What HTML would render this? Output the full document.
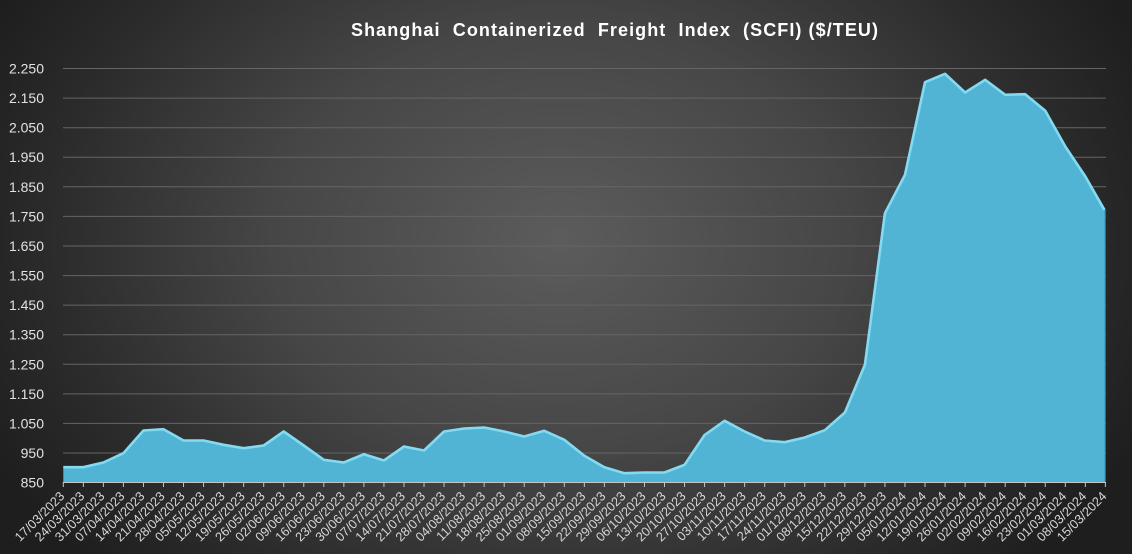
<!DOCTYPE html>
<html>
<head>
<meta charset="utf-8">
<style>
  html,body{margin:0;padding:0;background:#222;}
  body{width:1132px;height:554px;overflow:hidden;}
  svg{display:block;}
  .yl{font-family:"Liberation Sans",sans-serif;font-size:14px;fill:#e2e2e2;text-anchor:end;}
  .xl{font-family:"Liberation Sans",sans-serif;font-size:12.8px;fill:#d6d6d6;text-anchor:end;}
  .title{font-family:"Liberation Sans",sans-serif;font-size:18px;font-weight:bold;fill:#ffffff;white-space:pre;}
</style>
</head>
<body>
<svg width="1132" height="554" viewBox="0 0 1132 554" xmlns="http://www.w3.org/2000/svg">
  <defs>
    <radialGradient id="bg" gradientUnits="userSpaceOnUse" cx="560" cy="240" r="640" gradientTransform="translate(560 240) scale(1 0.75) translate(-560 -240)">
      <stop offset="0" stop-color="#5c5c5c"/>
      <stop offset="0.45" stop-color="#464646"/>
      <stop offset="0.8" stop-color="#2b2b2b"/>
      <stop offset="1" stop-color="#1e1e1e"/>
    </radialGradient>
  </defs>
  <rect x="0" y="0" width="1132" height="554" fill="url(#bg)"/>

  <text class="title" xml:space="preserve" x="351" y="36" textLength="527" lengthAdjust="spacing">Shanghai  Containerized  Freight  Index  (SCFI) ($/TEU)</text>

  <!-- gridlines -->
  <g stroke="#656565" stroke-width="1">
    <line x1="63" y1="68.5" x2="1106" y2="68.5"/>
    <line x1="63" y1="98.1" x2="1106" y2="98.1"/>
    <line x1="63" y1="127.7" x2="1106" y2="127.7"/>
    <line x1="63" y1="157.2" x2="1106" y2="157.2"/>
    <line x1="63" y1="186.8" x2="1106" y2="186.8"/>
    <line x1="63" y1="216.4" x2="1106" y2="216.4"/>
    <line x1="63" y1="246" x2="1106" y2="246"/>
    <line x1="63" y1="275.6" x2="1106" y2="275.6"/>
    <line x1="63" y1="305.1" x2="1106" y2="305.1"/>
    <line x1="63" y1="334.7" x2="1106" y2="334.7"/>
    <line x1="63" y1="364.3" x2="1106" y2="364.3"/>
    <line x1="63" y1="393.9" x2="1106" y2="393.9"/>
    <line x1="63" y1="423.4" x2="1106" y2="423.4"/>
    <line x1="63" y1="453" x2="1106" y2="453"/>
  </g>

  <!-- y labels -->
  <g class="yl">
    <text x="44" y="73.5">2.250</text>
    <text x="44" y="103.1">2.150</text>
    <text x="44" y="132.7">2.050</text>
    <text x="44" y="162.2">1.950</text>
    <text x="44" y="191.8">1.850</text>
    <text x="44" y="221.4">1.750</text>
    <text x="44" y="251">1.650</text>
    <text x="44" y="280.6">1.550</text>
    <text x="44" y="310.1">1.450</text>
    <text x="44" y="339.7">1.350</text>
    <text x="44" y="369.3">1.250</text>
    <text x="44" y="398.9">1.150</text>
    <text x="44" y="428.4">1.050</text>
    <text x="44" y="458">950</text>
    <text x="44" y="487.5">850</text>
  </g>

  <!-- area -->
  <polygon fill="#52b4d4" points="63.3,482.5 63.3,466.7 83.34,466.7 103.38,462 123.42,452.7 143.46,430 163.5,428.7 183.54,440 203.58,440 223.62,444.3 243.66,447.7 263.7,445 283.74,431 303.78,445 323.82,459.3 343.86,462 363.9,453.7 383.94,460 403.98,446 424.02,450 444.06,431 464.1,428 484.14,427 504.18,431 524.22,436 544.26,430.3 564.3,439.3 584.34,455.3 604.38,466.7 624.42,472.7 644.46,472 664.5,472 684.54,464.3 704.58,434.5 724.62,420.3 744.66,431 764.7,440 784.74,441.7 804.78,437 824.82,429.7 844.86,412 864.9,364.3 884.94,212.7 904.98,174.3 925.02,81.7 945.06,73.3 965.1,92 985.14,79.3 1005.18,94.3 1025.22,93.7 1045.26,110.3 1065.3,146 1085.34,176 1105.38,209.3 1105.38,482.5"/>
  <line x1="1105" y1="210" x2="1105" y2="482" stroke="#3f9dbf" stroke-width="1.2"/>
  <polyline fill="none" stroke="#84daf1" stroke-width="2.6" stroke-linejoin="round" points="63.3,467.2 83.34,467.2 103.38,462.5 123.42,453.2 143.46,430.5 163.5,429.2 183.54,440.5 203.58,440.5 223.62,444.8 243.66,448.2 263.7,445.5 283.74,431.5 303.78,445.5 323.82,459.8 343.86,462.5 363.9,454.2 383.94,460.5 403.98,446.5 424.02,450.5 444.06,431.5 464.1,428.5 484.14,427.5 504.18,431.5 524.22,436.5 544.26,430.8 564.3,439.8 584.34,455.8 604.38,467.2 624.42,473.2 644.46,472.5 664.5,472.5 684.54,464.8 704.58,435 724.62,420.8 744.66,431.5 764.7,440.5 784.74,442.2 804.78,437.5 824.82,430.2 844.86,412.5 864.9,364.8 884.94,213.2 904.98,174.8 925.02,82.2 945.06,73.8 965.1,92.5 985.14,79.8 1005.18,94.8 1025.22,94.2 1045.26,110.8 1065.3,146.5 1085.34,176.5 1104.4,209.8"/>

  <!-- axis -->
  <line x1="63" y1="482.5" x2="1106" y2="482.5" stroke="#c4c4c4" stroke-width="1"/>
  <g stroke="#c4c4c4" stroke-width="1">
    <line x1="63.3" y1="482" x2="63.3" y2="487"/><line x1="83.34" y1="482" x2="83.34" y2="487"/><line x1="103.38" y1="482" x2="103.38" y2="487"/><line x1="123.42" y1="482" x2="123.42" y2="487"/><line x1="143.46" y1="482" x2="143.46" y2="487"/><line x1="163.5" y1="482" x2="163.5" y2="487"/><line x1="183.54" y1="482" x2="183.54" y2="487"/><line x1="203.58" y1="482" x2="203.58" y2="487"/><line x1="223.62" y1="482" x2="223.62" y2="487"/><line x1="243.66" y1="482" x2="243.66" y2="487"/><line x1="263.7" y1="482" x2="263.7" y2="487"/><line x1="283.74" y1="482" x2="283.74" y2="487"/><line x1="303.78" y1="482" x2="303.78" y2="487"/><line x1="323.82" y1="482" x2="323.82" y2="487"/><line x1="343.86" y1="482" x2="343.86" y2="487"/><line x1="363.9" y1="482" x2="363.9" y2="487"/><line x1="383.94" y1="482" x2="383.94" y2="487"/><line x1="403.98" y1="482" x2="403.98" y2="487"/><line x1="424.02" y1="482" x2="424.02" y2="487"/><line x1="444.06" y1="482" x2="444.06" y2="487"/><line x1="464.1" y1="482" x2="464.1" y2="487"/><line x1="484.14" y1="482" x2="484.14" y2="487"/><line x1="504.18" y1="482" x2="504.18" y2="487"/><line x1="524.22" y1="482" x2="524.22" y2="487"/><line x1="544.26" y1="482" x2="544.26" y2="487"/><line x1="564.3" y1="482" x2="564.3" y2="487"/><line x1="584.34" y1="482" x2="584.34" y2="487"/><line x1="604.38" y1="482" x2="604.38" y2="487"/><line x1="624.42" y1="482" x2="624.42" y2="487"/><line x1="644.46" y1="482" x2="644.46" y2="487"/><line x1="664.5" y1="482" x2="664.5" y2="487"/><line x1="684.54" y1="482" x2="684.54" y2="487"/><line x1="704.58" y1="482" x2="704.58" y2="487"/><line x1="724.62" y1="482" x2="724.62" y2="487"/><line x1="744.66" y1="482" x2="744.66" y2="487"/><line x1="764.7" y1="482" x2="764.7" y2="487"/><line x1="784.74" y1="482" x2="784.74" y2="487"/><line x1="804.78" y1="482" x2="804.78" y2="487"/><line x1="824.82" y1="482" x2="824.82" y2="487"/><line x1="844.86" y1="482" x2="844.86" y2="487"/><line x1="864.9" y1="482" x2="864.9" y2="487"/><line x1="884.94" y1="482" x2="884.94" y2="487"/><line x1="904.98" y1="482" x2="904.98" y2="487"/><line x1="925.02" y1="482" x2="925.02" y2="487"/><line x1="945.06" y1="482" x2="945.06" y2="487"/><line x1="965.1" y1="482" x2="965.1" y2="487"/><line x1="985.14" y1="482" x2="985.14" y2="487"/><line x1="1005.18" y1="482" x2="1005.18" y2="487"/><line x1="1025.22" y1="482" x2="1025.22" y2="487"/><line x1="1045.26" y1="482" x2="1045.26" y2="487"/><line x1="1065.3" y1="482" x2="1065.3" y2="487"/><line x1="1085.34" y1="482" x2="1085.34" y2="487"/><line x1="1105.38" y1="482" x2="1105.38" y2="487"/>
  </g>

  <!-- x labels -->
  <g class="xl">
    <text transform="translate(65.3,497) rotate(-45)">17/03/2023</text>
    <text transform="translate(85.34,497) rotate(-45)">24/03/2023</text>
    <text transform="translate(105.38,497) rotate(-45)">31/03/2023</text>
    <text transform="translate(125.42,497) rotate(-45)">07/04/2023</text>
    <text transform="translate(145.46,497) rotate(-45)">14/04/2023</text>
    <text transform="translate(165.5,497) rotate(-45)">21/04/2023</text>
    <text transform="translate(185.54,497) rotate(-45)">28/04/2023</text>
    <text transform="translate(205.58,497) rotate(-45)">05/05/2023</text>
    <text transform="translate(225.62,497) rotate(-45)">12/05/2023</text>
    <text transform="translate(245.66,497) rotate(-45)">19/05/2023</text>
    <text transform="translate(265.7,497) rotate(-45)">26/05/2023</text>
    <text transform="translate(285.74,497) rotate(-45)">02/06/2023</text>
    <text transform="translate(305.78,497) rotate(-45)">09/06/2023</text>
    <text transform="translate(325.82,497) rotate(-45)">16/06/2023</text>
    <text transform="translate(345.86,497) rotate(-45)">23/06/2023</text>
    <text transform="translate(365.9,497) rotate(-45)">30/06/2023</text>
    <text transform="translate(385.94,497) rotate(-45)">07/07/2023</text>
    <text transform="translate(405.98,497) rotate(-45)">14/07/2023</text>
    <text transform="translate(426.02,497) rotate(-45)">21/07/2023</text>
    <text transform="translate(446.06,497) rotate(-45)">28/07/2023</text>
    <text transform="translate(466.1,497) rotate(-45)">04/08/2023</text>
    <text transform="translate(486.14,497) rotate(-45)">11/08/2023</text>
    <text transform="translate(506.18,497) rotate(-45)">18/08/2023</text>
    <text transform="translate(526.22,497) rotate(-45)">25/08/2023</text>
    <text transform="translate(546.26,497) rotate(-45)">01/09/2023</text>
    <text transform="translate(566.3,497) rotate(-45)">08/09/2023</text>
    <text transform="translate(586.34,497) rotate(-45)">15/09/2023</text>
    <text transform="translate(606.38,497) rotate(-45)">22/09/2023</text>
    <text transform="translate(626.42,497) rotate(-45)">29/09/2023</text>
    <text transform="translate(646.46,497) rotate(-45)">06/10/2023</text>
    <text transform="translate(666.5,497) rotate(-45)">13/10/2023</text>
    <text transform="translate(686.54,497) rotate(-45)">20/10/2023</text>
    <text transform="translate(706.58,497) rotate(-45)">27/10/2023</text>
    <text transform="translate(726.62,497) rotate(-45)">03/11/2023</text>
    <text transform="translate(746.66,497) rotate(-45)">10/11/2023</text>
    <text transform="translate(766.7,497) rotate(-45)">17/11/2023</text>
    <text transform="translate(786.74,497) rotate(-45)">24/11/2023</text>
    <text transform="translate(806.78,497) rotate(-45)">01/12/2023</text>
    <text transform="translate(826.82,497) rotate(-45)">08/12/2023</text>
    <text transform="translate(846.86,497) rotate(-45)">15/12/2023</text>
    <text transform="translate(866.9,497) rotate(-45)">22/12/2023</text>
    <text transform="translate(886.94,497) rotate(-45)">29/12/2023</text>
    <text transform="translate(906.98,497) rotate(-45)">05/01/2024</text>
    <text transform="translate(927.02,497) rotate(-45)">12/01/2024</text>
    <text transform="translate(947.06,497) rotate(-45)">19/01/2024</text>
    <text transform="translate(967.1,497) rotate(-45)">26/01/2024</text>
    <text transform="translate(987.14,497) rotate(-45)">02/02/2024</text>
    <text transform="translate(1007.18,497) rotate(-45)">09/02/2024</text>
    <text transform="translate(1027.22,497) rotate(-45)">16/02/2024</text>
    <text transform="translate(1047.26,497) rotate(-45)">23/02/2024</text>
    <text transform="translate(1067.3,497) rotate(-45)">01/03/2024</text>
    <text transform="translate(1087.34,497) rotate(-45)">08/03/2024</text>
    <text transform="translate(1107.38,497) rotate(-45)">15/03/2024</text>
  </g>
</svg>
</body>
</html>
